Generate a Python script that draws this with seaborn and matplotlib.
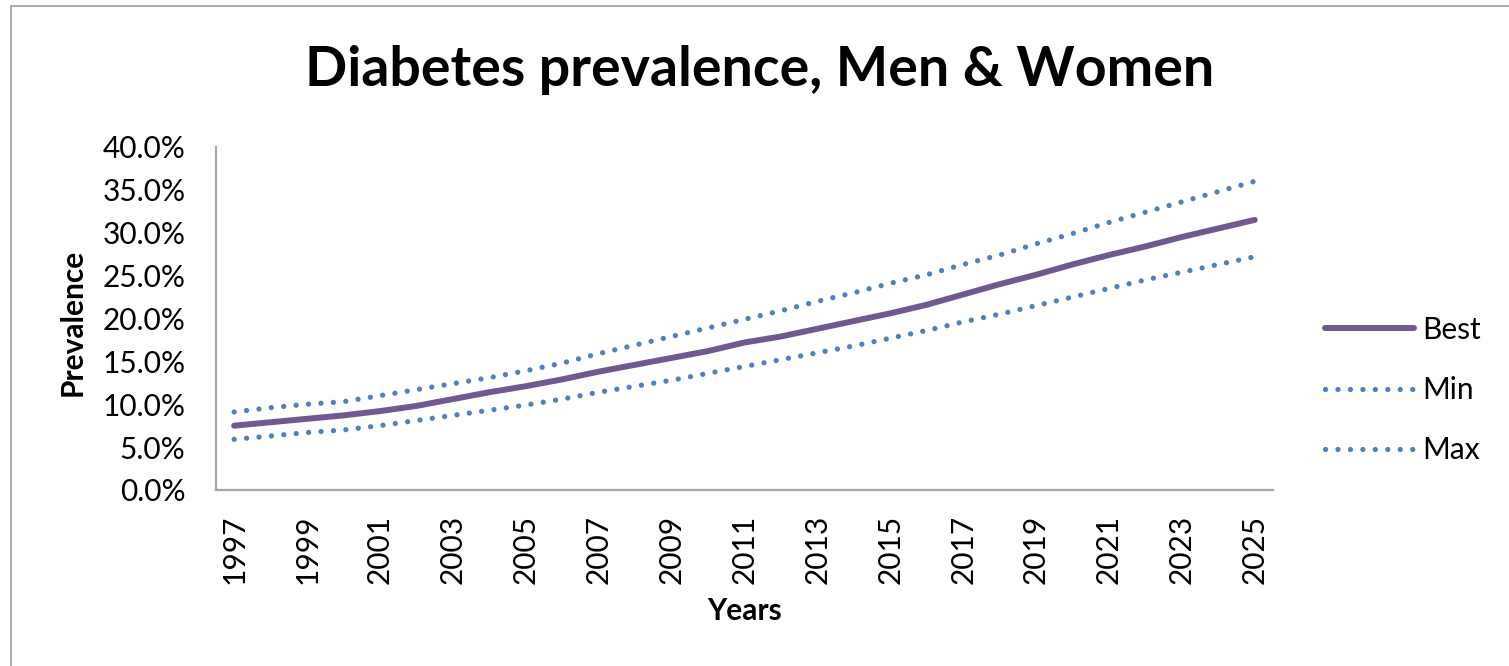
import numpy as np
import pandas as pd
import matplotlib
matplotlib.use("Agg")
import matplotlib.pyplot as plt
from matplotlib.lines import Line2D
from matplotlib.ticker import PercentFormatter
import seaborn as sns

# Projected diabetes prevalence (%) by year
years = list(range(1997, 2026))
best = [7.5, 7.9, 8.3, 8.7, 9.2, 9.8, 10.6, 11.4, 12.1, 12.9, 13.8, 14.6, 15.4, 16.2,
        17.2, 17.9, 18.8, 19.7, 20.6, 21.6, 22.8, 24.0, 25.1, 26.3, 27.4, 28.4, 29.5,
        30.5, 31.5]
min_vals = [5.9, 6.3, 6.7, 7.0, 7.5, 8.1, 8.7, 9.3, 9.9, 10.6, 11.4, 12.1, 12.8, 13.6,
            14.4, 15.2, 16.0, 16.8, 17.7, 18.6, 19.6, 20.5, 21.5, 22.5, 23.5, 24.5, 25.4,
            26.3, 27.2]
max_vals = [9.1, 9.6, 10.0, 10.3, 11.0, 11.7, 12.4, 13.1, 13.9, 14.8, 15.9, 16.9, 17.9,
            18.9, 19.9, 20.9, 22.0, 23.0, 24.1, 25.1, 26.3, 27.4, 28.7, 29.9, 31.2, 32.4,
            33.6, 34.8, 36.0]
series_names = ["Best", "Min", "Max"]

sns.set_theme(style="white")
plt.rcParams["font.family"] = ["Lato", "DejaVu Sans"]

df = pd.DataFrame({
    "pos": np.arange(len(years)).tolist() * 3,
    "value": best + min_vals + max_vals,
    "series": np.repeat(series_names, len(years)),
})

fig = plt.figure(figsize=(15.09, 6.66), dpi=100)
ax = fig.add_axes([0.1431, 0.2643, 0.7005, 0.5150])

purple = "#71588F"
blue = "#4F81BD"
styles = {
    "Best": dict(color=purple, linestyle="-", solid_capstyle="round", lw=4.3),
    "Min": dict(color=blue, linestyle=(0, (0.01, 2.35)), dash_capstyle="round", lw=3.8),
    "Max": dict(color=blue, linestyle=(0, (0.01, 2.35)), dash_capstyle="round", lw=3.8),
}
for name in series_names:
    sub = df[df["series"] == name]
    sns.lineplot(data=sub, x="pos", y="value", ax=ax, label=name,
                 estimator=None, **styles[name])

ax.set_xlim(-0.5, len(years) - 0.5)
ax.set_ylim(0, 40)
ax.set_yticks(np.arange(0, 40.1, 5))
ax.yaxis.set_major_formatter(PercentFormatter(decimals=1))
tick_pos = list(range(0, len(years), 2))
ax.set_xticks(tick_pos)
ax.set_xticklabels([str(years[i]) for i in tick_pos], rotation=90)
ax.tick_params(axis="y", length=0, pad=22, labelsize=21.5, labelcolor="black")
ax.tick_params(axis="x", length=0, pad=18, labelsize=21.5, labelcolor="black")

for side in ("top", "right"):
    ax.spines[side].set_visible(False)
for side in ("left", "bottom"):
    ax.spines[side].set_color("#A6A6A6")
    ax.spines[side].set_linewidth(1.6)

ax.set_xlabel("Years", fontsize=21.5, fontweight="bold", color="black")
ax.set_ylabel("Prevalence", fontsize=21.5, fontweight="bold", color="black")
ax.xaxis.label.set_va("center")
ax.yaxis.label.set_va("center")
ax.xaxis.set_label_coords(0.5005, -0.353)
ax.yaxis.set_label_coords(-0.1353, 0.49)

fig.suptitle("Diabetes prevalence, Men & Women", x=0.5035, y=1 - 70 / 666,
             va="center", fontsize=40, fontweight="bold", color="black")

leg = ax.legend(loc="center left", bbox_to_anchor=(0.878, 1 - 390 / 666),
                bbox_transform=fig.transFigure, frameon=False, fontsize=21.5,
                handlelength=3.0, handletextpad=0.25, labelspacing=1.08,
                borderpad=0, borderaxespad=0)
for t in leg.get_texts():
    t.set_color("black")

# Chart area border
fig.add_artist(Line2D([11 / 1509, 11 / 1509], [0, 1 - 6 / 666], color="#A0A0A0", lw=1.2,
                      transform=fig.transFigure))
fig.add_artist(Line2D([11 / 1509, 1], [1 - 6 / 666, 1 - 6 / 666], color="#A0A0A0", lw=1.2,
                      transform=fig.transFigure))

fig.savefig("out.png", dpi=100, facecolor="white")
